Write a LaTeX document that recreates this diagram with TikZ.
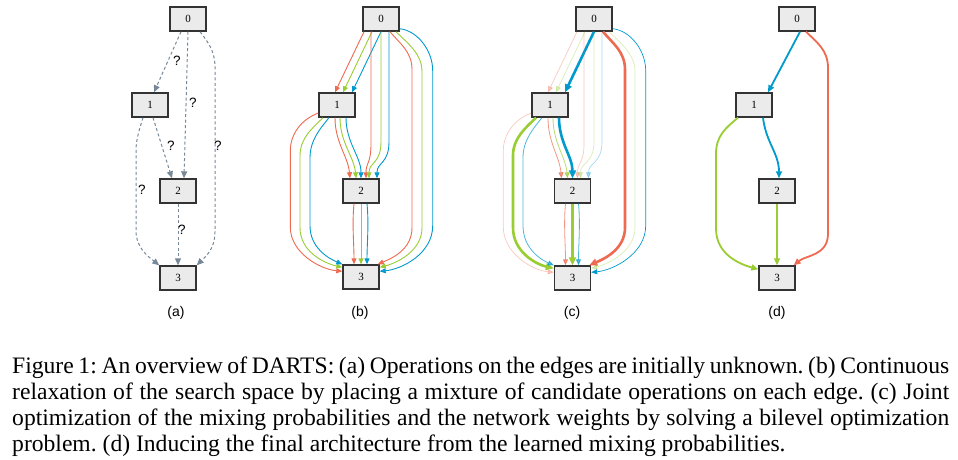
\documentclass[tikz,border=0pt]{standalone}
\usepackage{fontspec}
\setmainfont{Liberation Serif}
\setsansfont{Liberation Sans}
\usetikzlibrary{arrows.meta}
\frenchspacing

\definecolor{oprd}{HTML}{EE6A50}
\definecolor{opgn}{HTML}{9ACD32}
\definecolor{opbl}{HTML}{009ACD}
\definecolor{unk}{HTML}{778899}
\definecolor{boxfill}{HTML}{EBEBEB}
\definecolor{boxline}{HTML}{333333}

\tikzset{
  cell/.style={draw=boxline, fill=boxfill, line width=1.4pt, minimum width=36pt,
    minimum height=24pt, inner sep=0pt, font=\fontsize{11}{12}\selectfont},
  mix/.style={-{Triangle[length=6pt,width=5pt]}, line width=0.9pt},
  unknown/.style={-{Triangle[length=7pt,width=6pt]}, draw=unk, line width=1pt, dash pattern=on 3pt off 2.5pt},
  faint/.style={opacity=0.35, line width=0.7pt},
  soft/.style={opacity=0.7, line width=0.8pt},
  strong/.style={-{Triangle[length=8pt,width=7pt]}, line width=2.6pt},
  chosen/.style={-{Triangle[length=7pt,width=6pt]}, line width=1.8pt},
  qmark/.style={font=\sffamily\fontsize{13.5}{14}\selectfont, inner sep=0pt},
  sub/.style={font=\sffamily\fontsize{14}{16}\selectfont, inner sep=0pt},
  capline/.style={anchor=base west, inner sep=0pt, font=\fontsize{23.6}{26}\selectfont}
}

\begin{document}
\begin{tikzpicture}[x=1pt, y=1pt]
  \path[use as bounding box, fill=white] (0,0) rectangle (958,-460);

  % (a)
  \node[cell] (a0) at (188,-19) {0};
  \node[cell] (a1) at (150,-105) {1};
  \node[cell] (a2) at (178,-191) {2};
  \node[cell] (a3) at (178,-278) {3};
  \draw[unknown] ([xshift=-7pt]a0.south) -- ([xshift=4pt]a1.north);
  \draw[unknown] (a0.south) -- ([xshift=6pt]a2.north);
  \draw[unknown] ([xshift=12pt]a0.south) .. controls +(8,-10) and +(0,15) .. ++(15,-35) -- ++(0,-165) .. controls +(0,-18) and +(8,8) .. (a3.north east);
  \draw[unknown] ([xshift=3pt]a1.south) -- ([xshift=-6pt]a2.north);
  \draw[unknown] ([xshift=-7pt]a1.south) .. controls +(-3,-10) and +(0,12) .. ++(-7,-33) -- ++(0,-80) .. controls +(0,-18) and +(-10,8) .. (a3.north west);
  \draw[unknown] (a2.south) -- (a3.north);
  \node[qmark] (q01) at (177,-61) {?};
  \node[qmark] (q02) at (193,-103) {?};
  \node[qmark] (q03) at (218,-146) {?};
  \node[qmark] (q12) at (171,-146) {?};
  \node[qmark] (q13) at (142,-190) {?};
  \node[qmark] (q23) at (182,-230) {?};
  \node[sub] (la) at (176,-313) {(a)};

  % (b)
  \node[cell] (b0) at (381,-19) {0};
  \node[cell] (b1) at (337,-105) {1};
  \node[cell] (b2) at (361,-191) {2};
  \node[cell] (b3) at (361,-277) {3};
  \draw[mix, oprd] ([xshift=-17pt]b0.south) -- ([xshift=-2pt]b1.north);
  \draw[mix, opgn] ([xshift=-9pt]b0.south) -- ([xshift=6pt]b1.north);
  \draw[mix, opbl] (b0.south) -- ([xshift=15pt]b1.north);
  \draw[mix, oprd] ([xshift=-10pt]b0.south) -- ++(0,-112) .. controls +(0,-20) and +(0,16) .. ([xshift=5pt]b2.north);
  \draw[mix, opgn] (b0.south) -- ++(0,-110) .. controls +(0,-22) and +(0,16) .. ([xshift=8pt]b2.north);
  \draw[mix, opbl] ([xshift=8pt]b0.south) -- ++(0,-110) .. controls +(0,-22) and +(0,16) .. ([xshift=16pt]b2.north);
  \draw[mix, oprd] ([xshift=9pt]b0.south) .. controls +(10,-12) and +(0,18) .. ++(22,-38) -- ++(0,-158) .. controls +(0,-22) and +(14,6) .. ([xshift=-2pt]b3.north east);
  \draw[mix, opgn] ([xshift=15pt]b0.south) .. controls +(12,-12) and +(0,18) .. ++(26,-40) -- ++(0,-156) .. controls +(0,-24) and +(16,4) .. ([yshift=-3pt]b3.north east);
  \draw[mix, opbl] ([yshift=3pt]b0.south east) .. controls +(18,-2) and +(0,20) .. ++(33,-42) -- ++(0,-155) .. controls +(0,-28) and +(22,2) .. ([yshift=-7pt]b3.north east);
  \draw[mix, oprd] ([xshift=-2pt]b1.south) .. controls +(0,-25) and +(-2,22) .. ([xshift=-11pt]b2.north);
  \draw[mix, opgn] ([xshift=3pt]b1.south) .. controls +(0,-25) and +(-2,22) .. ([xshift=-5pt]b2.north);
  \draw[mix, opbl] ([xshift=9pt]b1.south) .. controls +(0,-25) and +(0,22) .. (b2.north);
  \draw[mix, oprd] ([yshift=-8pt]b1.west) .. controls +(-16,-6) and +(0,18) .. ++(-28,-38) -- ++(0,-76) .. controls +(0,-26) and +(-22,2) .. ([yshift=-7pt]b3.north west);
  \draw[mix, opgn] ([xshift=-14pt]b1.south) .. controls +(-10,-10) and +(0,18) .. ++(-23,-38) -- ++(0,-72) .. controls +(0,-24) and +(-18,4) .. ([yshift=-3pt]b3.north west);
  \draw[mix, opbl] ([xshift=-8pt]b1.south) .. controls +(-8,-10) and +(0,18) .. ++(-19,-40) -- ++(0,-68) .. controls +(0,-22) and +(-14,6) .. (b3.north west);
  \draw[mix, oprd] ([xshift=-7pt]b2.south) .. controls +(-2,-20) and +(0,20) .. ([xshift=-7pt]b3.north);
  \draw[mix, opgn] (b2.south) -- (b3.north);
  \draw[mix, opbl] ([xshift=6pt]b2.south) .. controls +(2,-20) and +(0,20) .. ([xshift=6pt]b3.north);
  \node[sub] (lb) at (360,-313) {(b)};

  % (c)
  \node[cell] (c0) at (594,-19) {0};
  \node[cell] (c1) at (550,-105) {1};
  \node[cell] (c2) at (572.5,-191) {2};
  \node[cell] (c3) at (572.5,-278) {3};
  \draw[mix, faint, oprd] ([xshift=-17pt]c0.south) -- ([xshift=-2pt]c1.north);
  \draw[mix, faint, opgn] ([xshift=-9pt]c0.south) -- ([xshift=6pt]c1.north);
  \draw[mix, strong, opbl] (c0.south) -- ([xshift=15pt]c1.north);
  \draw[mix, faint, oprd] ([xshift=-10pt]c0.south) -- ++(0,-112) .. controls +(0,-20) and +(0,16) .. ([xshift=5pt]c2.north);
  \draw[mix, faint, opgn] (c0.south) -- ++(0,-110) .. controls +(0,-22) and +(0,16) .. ([xshift=8pt]c2.north);
  \draw[mix, faint, opbl] ([xshift=8pt]c0.south) -- ++(0,-110) .. controls +(0,-22) and +(0,16) .. ([xshift=16pt]c2.north);
  \draw[mix, strong, oprd] ([xshift=9pt]c0.south) .. controls +(10,-12) and +(0,18) .. ++(22,-38) -- ++(0,-158) .. controls +(0,-22) and +(14,6) .. ([xshift=-2pt]c3.north east);
  \draw[mix, faint, opgn] ([xshift=15pt]c0.south) .. controls +(12,-12) and +(0,18) .. ++(26,-40) -- ++(0,-156) .. controls +(0,-24) and +(16,4) .. ([yshift=-3pt]c3.north east);
  \draw[mix, opbl, line width=0.7pt] ([yshift=3pt]c0.south east) .. controls +(18,-2) and +(0,20) .. ++(33,-42) -- ++(0,-155) .. controls +(0,-28) and +(22,2) .. ([yshift=-7pt]c3.north east);
  \draw[mix, soft, oprd] ([xshift=-2pt]c1.south) .. controls +(0,-25) and +(-2,22) .. ([xshift=-11pt]c2.north);
  \draw[mix, soft, opgn] ([xshift=3pt]c1.south) .. controls +(0,-25) and +(-2,22) .. ([xshift=-5pt]c2.north);
  \draw[mix, strong, opbl] ([xshift=9pt]c1.south) .. controls +(0,-25) and +(0,22) .. (c2.north);
  \draw[mix, faint, oprd] ([yshift=-8pt]c1.west) .. controls +(-16,-6) and +(0,18) .. ++(-28,-38) -- ++(0,-76) .. controls +(0,-26) and +(-22,2) .. ([yshift=-7pt]c3.north west);
  \draw[mix, strong, opgn] ([xshift=-14pt]c1.south) .. controls +(-10,-10) and +(0,18) .. ++(-23,-38) -- ++(0,-72) .. controls +(0,-24) and +(-18,4) .. ([yshift=-3pt]c3.north west);
  \draw[mix, soft, opbl] ([xshift=-8pt]c1.south) .. controls +(-8,-10) and +(0,18) .. ++(-19,-40) -- ++(0,-68) .. controls +(0,-22) and +(-14,6) .. (c3.north west);
  \draw[mix, soft, oprd] ([xshift=-7pt]c2.south) .. controls +(-2,-20) and +(0,20) .. ([xshift=-7pt]c3.north);
  \draw[mix, strong, opgn] (c2.south) -- (c3.north);
  \draw[mix, soft, opbl] ([xshift=6pt]c2.south) .. controls +(2,-20) and +(0,20) .. ([xshift=6pt]c3.north);
  \node[sub] (lc) at (572,-313) {(c)};

  % (d)
  \node[cell] (d0) at (797,-19) {0};
  \node[cell] (d1) at (754,-105) {1};
  \node[cell] (d2) at (777,-191) {2};
  \node[cell] (d3) at (777,-278) {3};
  \draw[chosen, opbl] ([xshift=3pt]d0.south) -- ([xshift=14pt]d1.north);
  \draw[chosen, oprd] ([xshift=9pt]d0.south) .. controls +(10,-10) and +(0,18) .. ++(22,-36) -- ++(0,-166) .. controls +(0,-22) and +(12,10) .. ([xshift=-2pt]d3.north east);
  \draw[chosen, opbl] ([xshift=9pt]d1.south) .. controls +(3,-25) and +(0,25) .. ([xshift=2pt]d2.north);
  \draw[chosen, opgn] ([xshift=-16pt]d1.south) .. controls +(-12,-10) and +(0,18) .. ++(-22,-36) -- ++(0,-75) .. controls +(0,-26) and +(-18,5) .. ([yshift=-4pt]d3.north west);
  \draw[chosen, opgn] (d2.south) -- (d3.north);
  \node[sub] (ld) at (777,-313) {(d)};

  % caption
  \node[capline] (cap1) at (12,-373) {\makebox[937pt][s]{Figure 1: An overview of DARTS: (a) Operations on the edges are initially unknown. (b) Continuous}};
  \node[capline] (cap2) at (12,-399) {\makebox[937pt][s]{relaxation of the search space by placing a mixture of candidate operations on each edge. (c) Joint}};
  \node[capline] (cap3) at (12,-425) {\makebox[937pt][s]{optimization of the mixing probabilities and the network weights by solving a bilevel optimization}};
  \node[capline] (cap4) at (12,-451) {problem. (d) Inducing the final architecture from the learned mixing probabilities.};
\end{tikzpicture}
\end{document}
